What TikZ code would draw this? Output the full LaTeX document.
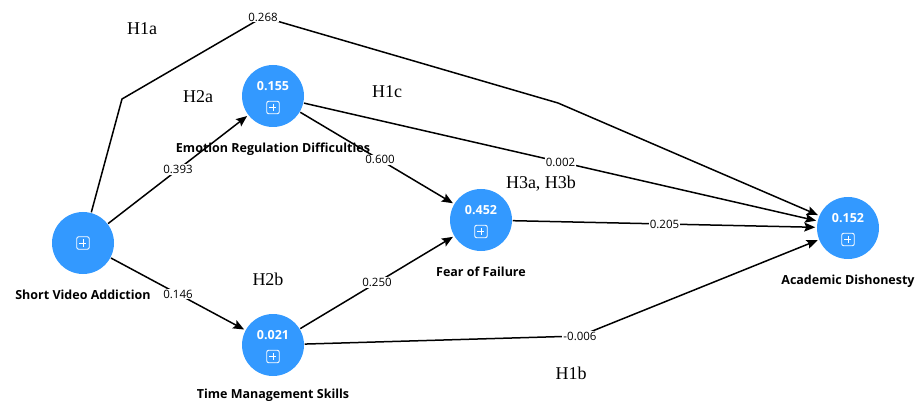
\documentclass[tikz,border=0pt]{standalone}
\usepackage{fontspec}
\setmainfont{Liberation Serif}
\setsansfont{Open Sans}
\usepackage{tikz}
\usetikzlibrary{arrows.meta,positioning}
\definecolor{nodeblue}{RGB}{51,153,255}

\tikzset{
  construct/.style={circle,fill=nodeblue,minimum size=62pt,inner sep=0pt},
  rsq/.style={text=white,font=\sffamily\bfseries\fontsize{12.5}{14}\selectfont},
  plusbox/.style={draw=white,line width=0.9pt,rounded corners=2pt,minimum size=12.5pt,inner sep=0pt,
    path picture={\draw[-,white,line width=0.9pt]
      ([yshift=-2.5pt]path picture bounding box.north) -- ([yshift=2.5pt]path picture bounding box.south)
      ([xshift=2.5pt]path picture bounding box.west) -- ([xshift=-2.5pt]path picture bounding box.east);}},
  cname/.style={font=\sffamily\bfseries\fontsize{12.5}{14}\selectfont},
  coef/.style={fill=white,inner sep=1pt,font=\sffamily\fontsize{11.5}{13}\selectfont},
  hyp/.style={font=\rmfamily\fontsize{18}{20}\selectfont}
}

\begin{document}
\begin{tikzpicture}[->,>={Stealth[length=11pt,width=9pt,inset=2pt]},shorten >=1pt,line width=1.5pt,x=1pt,y=-1pt]
            \useasboundingbox (0,0) rectangle (919,401);

            % constructs
            \node   [construct]     (1) at (83,243)  {};
            \node   [construct]     (2) at (273,96)  {};
            \node   [construct]     (3) at (273,345) {};
            \node   [construct]     (4) at (481,220) {};
            \node   [construct]     (5) at (848,228) {};

            \node   [plusbox] at (1) {};
            \foreach \n/\v in {2/0.155,3/0.021,4/0.452,5/0.152} {
                \node [rsq] at ([yshift=9.5pt]\n.center) {\v};
                \node [plusbox] at ([yshift=-11.5pt]\n.center) {};
            }

            \node   [cname, below=11pt of 1]    (n1) {Short Video Addiction};
            \node   [cname, below=11pt of 2]    (n2) {Emotion Regulation Difficulties};
            \node   [cname, below=8pt of 3]     (n3) {Time Management Skills};
            \node   [cname, below=11pt of 4]    (n4) {Fear of Failure};
            \node   [cname, below=11pt of 5]    (n5) {Academic Dishonesty};

            % bends
            \coordinate (b1) at (122,99);
            \coordinate (b2) at (263,17);
            \coordinate (b3) at (558,103);
            \coordinate (b4) at (580,336);

            \path   (1) edge node [coef] {0.393} (2)
                    (1) edge node [coef] {0.146} (3)
                    (2) edge node [coef, pos=0.52] {0.600} (4)
                    (2) edge node [coef] {0.002} (5)
                    (3) edge node [coef] {0.250} (4)
                    (4) edge node [coef] {0.205} (5);

            \draw   (1) -- (b1) -- (b2) node [coef] {0.268} -- (b3) -- (5);
            \draw   (3) -- (b4) node [coef] {-0.006} -- (5);

            % hypotheses
            \node   [hyp]   (h1a) at (142,29)  {H1a};
            \node   [hyp]   (h2a) at (198,97)  {H2a};
            \node   [hyp]   (h1c) at (387,92)  {H1c};
            \node   [hyp]   (h3)  at (541,184) {H3a, H3b};
            \node   [hyp]   (h2b) at (268,279) {H2b};
            \node   [hyp]   (h1b) at (571,373) {H1b};
        \end{tikzpicture}
\end{document}
